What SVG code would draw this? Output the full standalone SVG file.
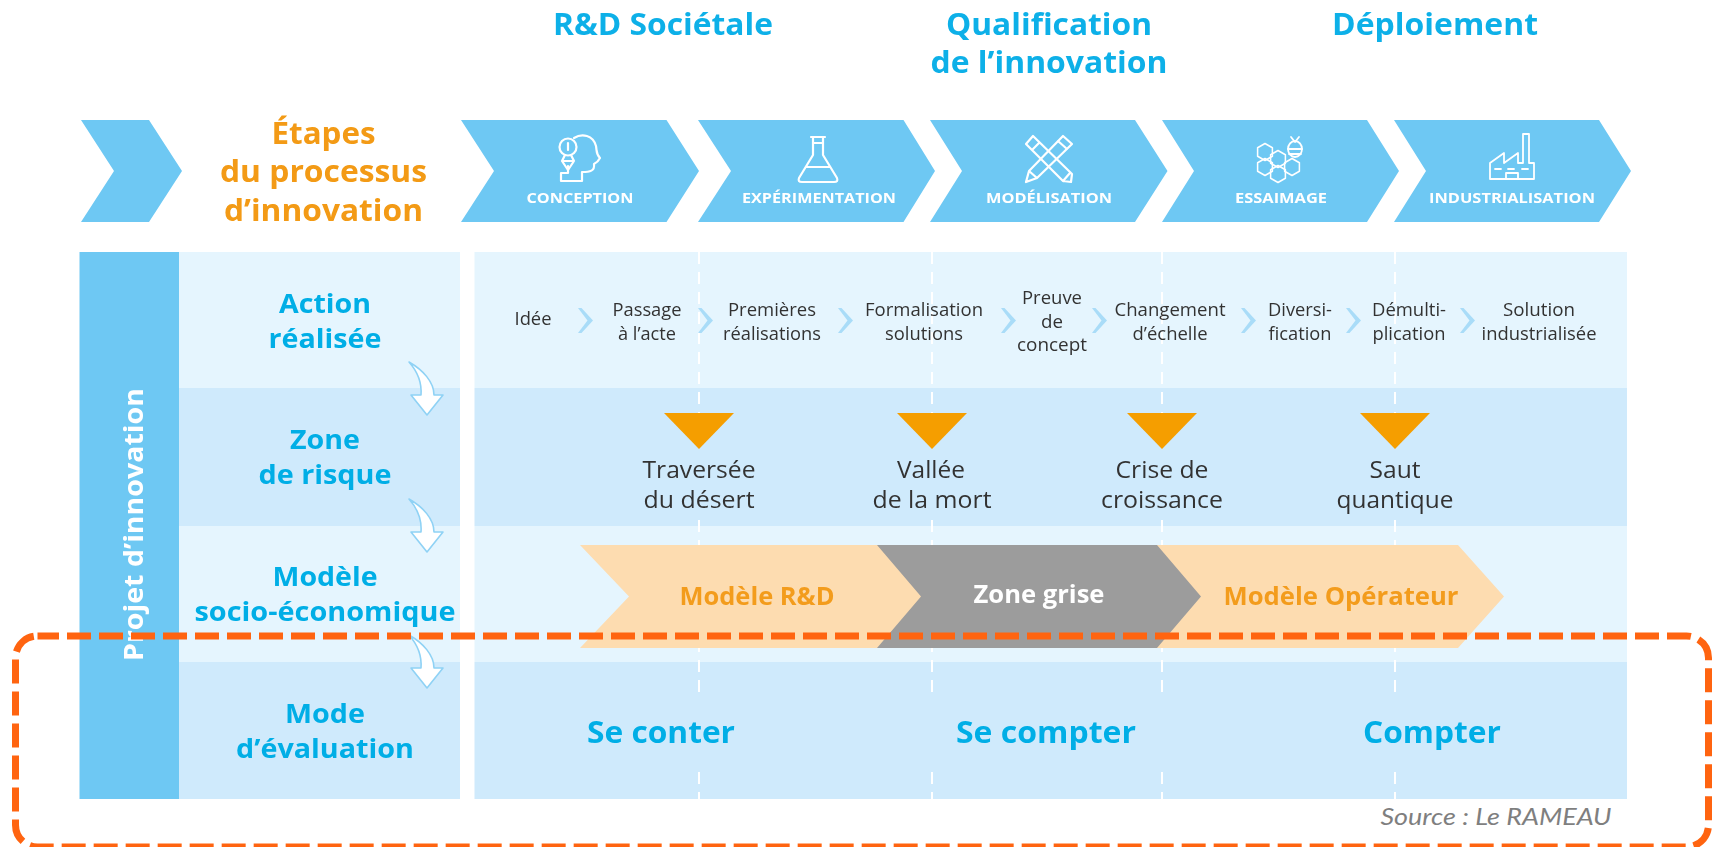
<svg xmlns="http://www.w3.org/2000/svg" width="1712" height="847" viewBox="0 0 1712 847">
<style>
text{font-family:"Open Sans","Liberation Sans",sans-serif;text-anchor:middle}
.chev{fill:#6EC8F3}
.hdr{font-size:30px;font-weight:700;fill:#10B0E8}
.step{font-size:31px;font-weight:700;fill:#F39A12}
.lbl{font-size:27.5px;font-weight:700;fill:#00AEE6}
.st{font-size:15px;font-weight:700;fill:#fff}
.sm{font-size:19px;fill:#333}
.rk{font-size:23.5px;fill:#333}
.md{font-size:25px;font-weight:700;fill:#F39C1E}
.ev{font-size:31px;font-weight:700;fill:#00AEE6}
.ic{fill:none;stroke:#fff;stroke-width:2.2;stroke-linejoin:round;stroke-linecap:round}
.lt{fill:#E5F5FE}.mi{fill:#CFEAFC}
.vd{stroke:#fff;stroke-width:2;stroke-dasharray:12 8;fill:none}
.sc{fill:#A9DCF8}
.ca{fill:#fff;stroke:#8FD2F5;stroke-width:1.6;stroke-linejoin:round}
.tri{fill:#F59E00}
</style>
<defs>
<filter id="soft" x="0" y="0" width="100%" height="100%"><feGaussianBlur stdDeviation="0.55"/></filter>
<polygon id="hex" points="0,-10 8.7,-5 8.7,5 0,10 -8.7,5 -8.7,-5"/>
<polygon id="smallchev" points="0,0 3.500,0 15,12.5 3.500,25 0,25 9.500,12.5"/>
<path id="curve" d="M0,0C14,8 25,20 25,33H34L18,53L2,33H12C13,20 8,9 0,0Z"/>
<polygon id="tridown" points="-35,0 35,0 0,36"/>
</defs>

<g id="artwork" filter="url(#soft)">
<g id="headers">
<text class="hdr" x="663" y="35" textLength="220" lengthAdjust="spacingAndGlyphs">R&amp;D Sociétale</text>
<text class="hdr" x="1049" y="35" textLength="206" lengthAdjust="spacingAndGlyphs">Qualification</text>
<text class="hdr" x="1049" y="73" textLength="237" lengthAdjust="spacingAndGlyphs">de l’innovation</text>
<text class="hdr" x="1435" y="35" textLength="206" lengthAdjust="spacingAndGlyphs">Déploiement</text>
</g>

<g id="stage-title">
<polygon class="chev" points="81,120 149,120 182,171 149,222 81,222 114,171"/>
<text class="step" x="323.5" y="144" textLength="104" lengthAdjust="spacingAndGlyphs">Étapes</text>
<text class="step" x="323.5" y="182" textLength="207" lengthAdjust="spacingAndGlyphs">du processus</text>
<text class="step" x="323.5" y="221" textLength="199" lengthAdjust="spacingAndGlyphs">d’innovation</text>
</g>

<g id="stage-conception">
<polygon class="chev" points="461,120 666.5,120 699,171 666.5,222 461,222 494,171"/>
<g class="ic">
<circle cx="568" cy="147" r="8.5"/><path d="M565,155L562,161H574L571,155M568,143V150M562,161L568,170L574,161"/>
<path d="M574,138C582,133 593,135 596,146C597,152 596,154 600,158C598,162 596,163 594,164C595,171 590,172 582,172V181H561V173H568V166"/>
</g>
<text class="st" x="580" y="203" textLength="107" lengthAdjust="spacingAndGlyphs">CONCEPTION</text>
</g>

<g id="stage-experimentation">
<polygon class="chev" points="698,120 903.5,120 935,171 903.5,222 698,222 731,171"/>
<g class="ic"><path d="M811,137H825M813,137V143H823V137M813,143V155L799,178C798,181 799,182 802,182H834C837,182 838,181 837,178L823,155V143M806,167H830"/></g>
<text class="st" x="819" y="203" textLength="154" lengthAdjust="spacingAndGlyphs">EXPÉRIMENTATION</text>
</g>

<g id="stage-modelisation">
<polygon class="chev" points="930,120 1135,120 1167.5,171 1135,222 930,222 962,171"/>
<g class="ic"><path d="M1026,144L1033,136L1072,174L1071,182L1063,181ZM1032,150L1039,143M1063,181L1070,173"/><path d="M1063,136L1072,144L1037,178L1026,182L1029,171ZM1029,171L1037,178M1058,141L1067,149"/></g>
<text class="st" x="1049" y="203" textLength="126" lengthAdjust="spacingAndGlyphs">MODÉLISATION</text>
</g>

<g id="stage-essaimage">
<polygon class="chev" points="1162,120 1367,120 1399,171 1367,222 1162,222 1194,171"/>
<g class="ic" style="stroke-width:1.8">
<use href="#hex" transform="translate(1265,152) scale(.85)"/><use href="#hex" transform="translate(1278,159) scale(.85)"/><use href="#hex" transform="translate(1265,167) scale(.85)"/><use href="#hex" transform="translate(1292,167) scale(.85)"/><use href="#hex" transform="translate(1278,174) scale(.85)"/>
<ellipse cx="1295" cy="149" rx="7" ry="8"/><path d="M1291,137L1295,142L1299,137M1288,149H1302M1289,154H1301"/>
</g>
<text class="st" x="1281" y="203" textLength="92" lengthAdjust="spacingAndGlyphs">ESSAIMAGE</text>
</g>

<g id="stage-industrialisation">
<polygon class="chev" points="1394,120 1599,120 1631,171 1599,222 1394,222 1426,171"/>
<g class="ic" style="stroke-width:1.8"><path d="M1490,179V163L1504,153V163L1518,153V163H1523V134H1529V163H1534V179ZM1495,169h6M1508,169h6M1522,169h6M1506,179V173H1518V179"/></g>
<text class="st" x="1512" y="203" textLength="166" lengthAdjust="spacingAndGlyphs">INDUSTRIALISATION</text>
</g>

<g id="project-bar">
<rect x="79.5" y="252" width="99.5" height="547" fill="#6EC8F3"/>
<text transform="translate(143,524.500) rotate(-90)" font-size="27" font-weight="700" fill="#fff" textLength="273" lengthAdjust="spacingAndGlyphs">Projet d’innovation</text>
</g>

<g id="row-action">
<rect class="lt" x="179" y="252" width="281" height="136"/><rect class="lt" x="474.500" y="252" width="1152.500" height="136"/>
<text class="lbl" x="325" y="313" textLength="92" lengthAdjust="spacingAndGlyphs">Action</text>
<text class="lbl" x="325" y="348" textLength="113" lengthAdjust="spacingAndGlyphs">réalisée</text>
</g>
<g id="row-risque">
<rect class="mi" x="179" y="388" width="281" height="138"/><rect class="mi" x="474.500" y="388" width="1152.500" height="138"/>
<text class="lbl" x="325" y="449" textLength="70" lengthAdjust="spacingAndGlyphs">Zone</text>
<text class="lbl" x="325" y="484" textLength="133" lengthAdjust="spacingAndGlyphs">de risque</text>
</g>
<g id="row-modele">
<rect class="lt" x="179" y="526" width="281" height="136"/><rect class="lt" x="474.500" y="526" width="1152.500" height="136"/>
<text class="lbl" x="325" y="586" textLength="105" lengthAdjust="spacingAndGlyphs">Modèle</text>
<text class="lbl" x="325" y="621" textLength="261" lengthAdjust="spacingAndGlyphs">socio-économique</text>
</g>
<g id="row-evaluation">
<rect class="mi" x="179" y="662" width="281" height="137"/><rect class="mi" x="474.500" y="662" width="1152.500" height="137"/>
<text class="lbl" x="325" y="723" textLength="80" lengthAdjust="spacingAndGlyphs">Mode</text>
<text class="lbl" x="325" y="758" textLength="178" lengthAdjust="spacingAndGlyphs">d’évaluation</text>
</g>

<g id="dividers">
<path class="vd" d="M699,252V413M699,520V693M699,772V799M932,252V413M932,520V693M932,772V799M1162,252V413M1162,520V693M1162,772V799M1395,252V413M1395,520V693M1395,772V799"/>
</g>

<g id="actions">
<text class="sm" x="533" y="325" textLength="37" lengthAdjust="spacingAndGlyphs">Idée</text>
<text class="sm" x="647" y="316" textLength="69" lengthAdjust="spacingAndGlyphs">Passage</text>
<text class="sm" x="647" y="340" textLength="58" lengthAdjust="spacingAndGlyphs">à l’acte</text>
<text class="sm" x="772" y="316" textLength="88" lengthAdjust="spacingAndGlyphs">Premières</text>
<text class="sm" x="772" y="340" textLength="98" lengthAdjust="spacingAndGlyphs">réalisations</text>
<text class="sm" x="924" y="316" textLength="118" lengthAdjust="spacingAndGlyphs">Formalisation</text>
<text class="sm" x="924" y="340" textLength="78" lengthAdjust="spacingAndGlyphs">solutions</text>
<text class="sm" x="1052" y="304" textLength="60" lengthAdjust="spacingAndGlyphs">Preuve</text>
<text class="sm" x="1052" y="328" textLength="22" lengthAdjust="spacingAndGlyphs">de</text>
<text class="sm" x="1052" y="351" textLength="70" lengthAdjust="spacingAndGlyphs">concept</text>
<text class="sm" x="1170" y="316" textLength="111" lengthAdjust="spacingAndGlyphs">Changement</text>
<text class="sm" x="1170" y="340" textLength="75" lengthAdjust="spacingAndGlyphs">d’échelle</text>
<text class="sm" x="1300" y="316" textLength="64" lengthAdjust="spacingAndGlyphs">Diversi-</text>
<text class="sm" x="1300" y="340" textLength="63" lengthAdjust="spacingAndGlyphs">fication</text>
<text class="sm" x="1409" y="316" textLength="74" lengthAdjust="spacingAndGlyphs">Démulti-</text>
<text class="sm" x="1409" y="340" textLength="73" lengthAdjust="spacingAndGlyphs">plication</text>
<text class="sm" x="1539" y="316" textLength="72" lengthAdjust="spacingAndGlyphs">Solution</text>
<text class="sm" x="1539" y="340" textLength="115" lengthAdjust="spacingAndGlyphs">industrialisée</text>
</g>

<g id="risks">
<use href="#tridown" class="tri" x="699" y="413"/><use href="#tridown" class="tri" x="932" y="413"/><use href="#tridown" class="tri" x="1162" y="413"/><use href="#tridown" class="tri" x="1395" y="413"/>
<text class="rk" x="699" y="478" textLength="113" lengthAdjust="spacingAndGlyphs">Traversée</text>
<text class="rk" x="699" y="508" textLength="111" lengthAdjust="spacingAndGlyphs">du désert</text>
<text class="rk" x="931" y="478" textLength="68" lengthAdjust="spacingAndGlyphs">Vallée</text>
<text class="rk" x="932" y="508" textLength="119" lengthAdjust="spacingAndGlyphs">de la mort</text>
<text class="rk" x="1162" y="478" textLength="93" lengthAdjust="spacingAndGlyphs">Crise de</text>
<text class="rk" x="1162" y="508" textLength="122" lengthAdjust="spacingAndGlyphs">croissance</text>
<text class="rk" x="1395" y="478" textLength="51" lengthAdjust="spacingAndGlyphs">Saut</text>
<text class="rk" x="1395" y="508" textLength="117" lengthAdjust="spacingAndGlyphs">quantique</text>
</g>

<g id="model-operateur">
<polygon fill="#FDDCB0" points="1150,545 1458,545 1504,596.500 1458,648 1150,648 1195,596.500"/>
<text class="md" x="1341" y="605" textLength="235" lengthAdjust="spacingAndGlyphs">Modèle Opérateur</text>
</g>
<g id="model-rd">
<polygon fill="#FDDCB0" points="580,545 880,545 925,596.500 880,648 580,648 629,596.500"/>
<text class="md" x="757" y="605" textLength="155" lengthAdjust="spacingAndGlyphs">Modèle R&amp;D</text>
</g>
<g id="model-grise">
<polygon fill="#9C9C9C" points="877,545 1157,545 1201,596.500 1157,648 877,648 921,596.500"/>
<text x="1039" y="603" font-size="25" font-weight="700" fill="#fff" textLength="131" lengthAdjust="spacingAndGlyphs">Zone grise</text>
</g>

<g id="evaluations">
<text class="ev" x="661" y="743" textLength="148" lengthAdjust="spacingAndGlyphs">Se conter</text>
<text class="ev" x="1046" y="743" textLength="180" lengthAdjust="spacingAndGlyphs">Se compter</text>
<text class="ev" x="1432" y="743" textLength="138" lengthAdjust="spacingAndGlyphs">Compter</text>
</g>

<g id="connectors">
<use href="#smallchev" class="sc" x="578" y="308"/><use href="#smallchev" class="sc" x="698" y="308"/><use href="#smallchev" class="sc" x="838" y="308"/><use href="#smallchev" class="sc" x="1001" y="308"/><use href="#smallchev" class="sc" x="1092" y="308"/><use href="#smallchev" class="sc" x="1241" y="308"/><use href="#smallchev" class="sc" x="1346" y="308"/><use href="#smallchev" class="sc" x="1460" y="308"/>
<use href="#curve" class="ca" x="409" y="362"/><use href="#curve" class="ca" x="409" y="499"/><use href="#curve" class="ca" x="409" y="635"/>
</g>
</g>

<g id="source">
<text x="1496" y="825" font-size="24" font-style="italic" fill="#7F7F7F" style="font-family:Lato,'Open Sans',sans-serif" textLength="231" lengthAdjust="spacingAndGlyphs">Source : Le RAMEAU</text>
</g>

<g id="highlight">
<rect x="15.500" y="636" width="1693" height="211" rx="22" ry="22" fill="none" stroke="#FF6410" stroke-width="7" stroke-dasharray="24 8" stroke-dashoffset="2.500"/>
</g>
</svg>
